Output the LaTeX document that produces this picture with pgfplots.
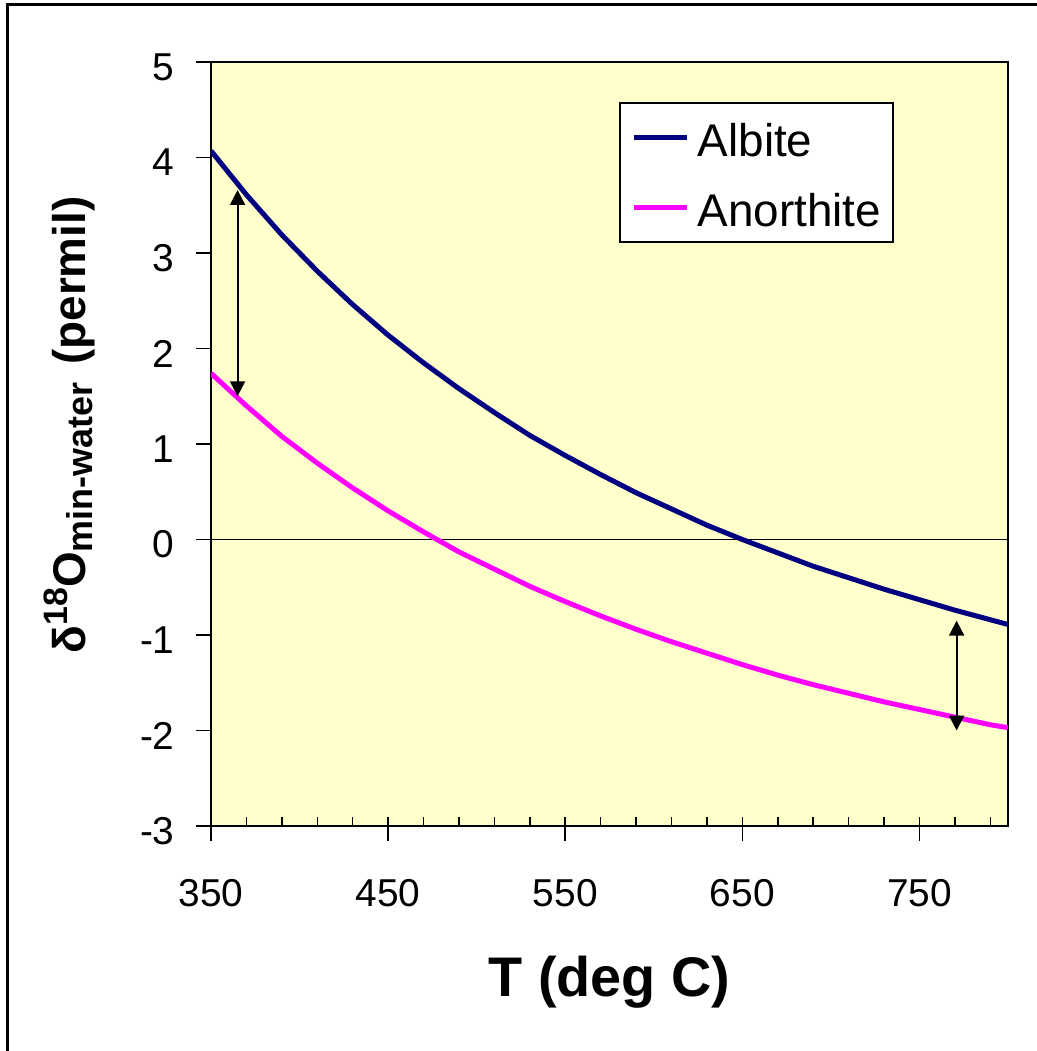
\documentclass[border=0pt]{standalone}
\usepackage{fontspec}
\setmainfont{Liberation Sans}
\usepackage{pgfplots}
\pgfplotsset{compat=1.18}
\usetikzlibrary{arrows.meta}
\definecolor{plotbg}{RGB}{255,255,204}
\definecolor{albite}{RGB}{0,0,128}
\definecolor{anorthite}{RGB}{255,0,255}

\begin{document}
\begin{tikzpicture}
\useasboundingbox (0,0) rectangle (518.5bp,525.5bp);
\draw[line width=1.5bp] (3.5bp,-2bp) -- (3.5bp,523bp) -- (521bp,523bp);
\begin{axis}[
  at={(105.5bp,112.5bp)}, anchor=south west,
  scale only axis, width=398.5bp, height=382bp,
  xmin=350, xmax=800, ymin=-3, ymax=5,
  axis background/.style={fill=plotbg},
  axis line style={line width=0.75bp},
  tick pos=left, tick align=inside,
  major tick length=7.5bp, minor tick length=4.5bp,
  tick style={black, line width=0.75bp},
  every major x tick/.append style={yshift=-7.5bp},
  every major y tick/.append style={xshift=-7.5bp},
  xtick={350,450,550,650,750}, xticklabels={350,450,550,650,750},
  minor xtick={350,370,...,790},
  ytick={-3,-2,...,5}, yticklabels={-3,-2,-1,0,1,2,3,4,5},
  tick label style={font=\fontsize{19.5}{19.5}\selectfont, inner sep=0pt},
  xticklabel style={anchor=base, yshift=-40bp},
  yticklabel style={anchor=east, xshift=-18bp, yshift=-2.5bp},
  xlabel={\textbf{T (deg C)}},
  xlabel style={at={(axis description cs:0.5,-0.2238)}, anchor=base, inner sep=0pt,
    font=\fontsize{28}{28}\selectfont},
  ylabel={\textbf{δ\raisebox{9bp}{\fontsize{17}{17}\selectfont 18}O\raisebox{-3.5bp}{\fontsize{18}{18}\selectfont min-water}\hspace{9bp}(permil)}},
  ylabel style={at={(axis description cs:-0.158,0.525)}, anchor=base, inner sep=0pt,
    font=\fontsize{23}{23}\selectfont},
  legend style={at={(0.512,0.9476)}, anchor=north west, draw=black, line width=0.75bp,
    fill=white, font=\fontsize{23}{23}\selectfont,
    inner xsep=6bp, inner ysep=7.5bp, row sep=15.5bp, column sep=4bp,
    nodes={inner sep=0pt, text height=19.5bp, text depth=0pt}},
  legend cell align=left,
  legend image code/.code={\draw[#1] (0bp,0bp) -- (26.5bp,0bp);},
]
\addplot[black, line width=0.75bp, forget plot] coordinates {(350,0) (800,0)};

\addplot[albite, line width=2.5bp, line join=round] coordinates {
  (350,4.07) (370,3.61) (390,3.19) (410,2.81) (430,2.46) (450,2.14)
  (470,1.85) (490,1.58) (510,1.33) (530,1.09) (550,0.88) (570,0.68)
  (590,0.49) (610,0.32) (630,0.15) (650,0.00) (670,-0.14) (690,-0.28)
  (710,-0.40) (730,-0.52) (750,-0.63) (770,-0.74) (790,-0.84) (800,-0.89)
};
\addlegendentry{Albite}

\addplot[anorthite, line width=2.5bp, line join=round] coordinates {
  (350,1.74) (370,1.40) (390,1.08) (410,0.80) (430,0.54) (450,0.30)
  (470,0.08) (490,-0.13) (510,-0.31) (530,-0.49) (550,-0.65) (570,-0.80)
  (590,-0.94) (610,-1.07) (630,-1.19) (650,-1.31) (670,-1.42) (690,-1.52)
  (710,-1.61) (730,-1.70) (750,-1.78) (770,-1.86) (790,-1.94) (800,-1.97)
};
\addlegendentry{Anorthite}

\addplot[black, line width=1bp, forget plot,
  {Triangle[width=7.5bp,length=7.5bp]}-{Triangle[width=7.5bp,length=7.5bp]}]
  coordinates {(365,3.66) (365,1.50)};
\addplot[black, line width=1bp, forget plot,
  {Triangle[width=7.5bp,length=7.5bp]}-{Triangle[width=7.5bp,length=7.5bp]}]
  coordinates {(771,-0.85) (771,-2.00)};
\end{axis}
\end{tikzpicture}
\end{document}
